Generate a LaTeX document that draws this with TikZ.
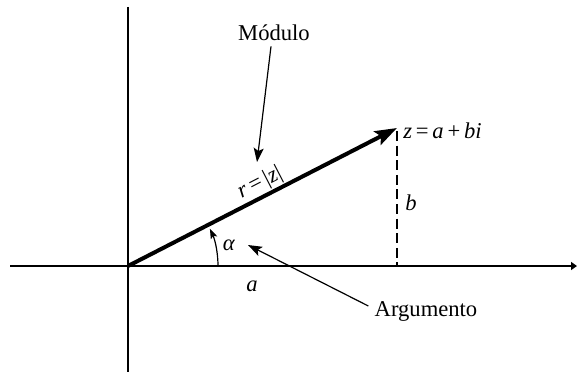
\documentclass[tikz,border=0pt]{standalone}
\usepackage{fontspec}
\setmainfont{Liberation Serif}
\usetikzlibrary{arrows.meta}
\begin{document}
\begin{tikzpicture}[x=0.5pt,y=-0.5pt,
  lbl/.style={inner sep=0pt,font=\fontsize{11.3}{13}\selectfont},
  axis/.style={line width=0.75pt},
  pointer/.style={line width=0.6pt,-{Stealth[length=7pt,width=5pt,inset=1.5pt]}},
  vec/.style={line width=2pt,-{Stealth[length=11pt,width=7.5pt,inset=2pt]}}]
\useasboundingbox (0,0) rectangle (577,379);
\coordinate (O) at (128,266);
\coordinate (xs) at (10,266);
\coordinate (xe) at (577,266);
\coordinate (ys) at (128,7);
\coordinate (ye) at (128,372);
\coordinate (Z) at (397,128);
\coordinate (Zb) at (397,266);
\draw[axis,-{Triangle[length=3pt,width=4pt]}] (xs) -- (xe);
\draw[axis] (ys) -- (ye);
\draw[line width=0.7pt,dash pattern=on 5pt off 2.3pt] (397,131) -- (Zb);
\draw[vec] (O) -- (Z);
\draw[line width=0.6pt,-{Stealth[length=5pt,width=3.5pt,inset=1pt]}] (218,266) arc[start angle=0,end angle=-24.5,radius=90];
\node[lbl,anchor=west] (zl) at (403,131) {\textit{z}\,=\,\textit{a}\,+\,\textit{bi}};
\node[lbl] (bl) at (411,203) {\textit{b}};
\node[lbl] (al) at (252,286) {\textit{a}};
\node[lbl] (alpha) at (229,245) {\textit{α}};
\node[lbl,rotate=27.3] (rl) at (260,183) {\textit{r}\,=\,|\textit{z}|};
\node[lbl] (mod) at (274,33) {Módulo};
\node[lbl] (arg) at (426,311) {Argumento};
\coordinate (mt) at (257,162);
\coordinate (at) at (248,245);
\draw[pointer] (mod.south) ++(-3,5) -- (mt);
\draw[pointer] (arg.west) ++(-6,-5) -- (at);
\end{tikzpicture}
\end{document}
